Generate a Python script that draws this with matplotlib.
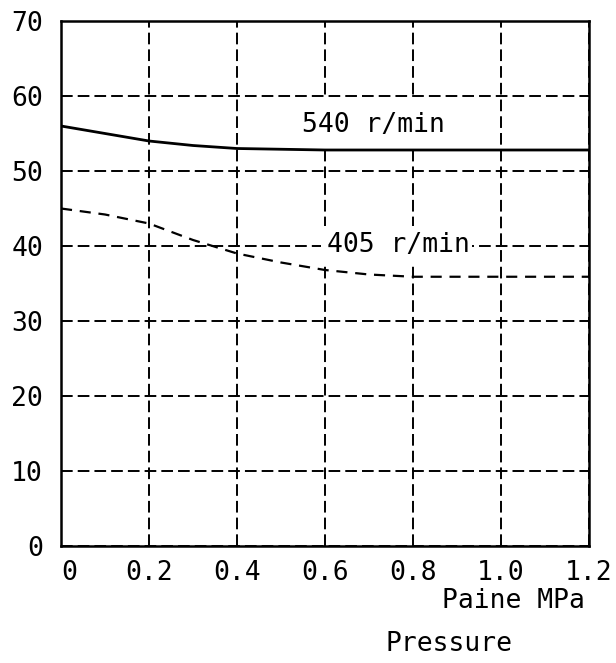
import matplotlib
matplotlib.use("Agg")
import matplotlib.pyplot as plt
from matplotlib.patches import Rectangle

# pressure (MPa) and values
pressure = [0.0, 0.1, 0.2, 0.3, 0.4, 0.5, 0.6, 0.7, 0.8, 0.9, 1.0, 1.1, 1.2]
rpm540 = [56.0, 55.0, 54.0, 53.4, 53.0, 52.9, 52.8, 52.8, 52.8, 52.8, 52.8, 52.8, 52.8]
rpm405 = [45.0, 44.2, 43.0, 40.8, 39.0, 37.8, 36.8, 36.2, 35.9, 35.9, 35.9, 35.9, 35.9]

xticks = [0, 0.2, 0.4, 0.6, 0.8, 1.0, 1.2]
xticklabels = ["0", "0.2", "0.4", "0.6", "0.8", "1.0", "1.2"]
yticks = [0, 10, 20, 30, 40, 50, 60, 70]
yticklabels = ["0", "10", "20", "30", "40", "50", "60", "70"]

font = "DejaVu Sans Mono"
fs = 19

fig = plt.figure(figsize=(6.16, 6.63), dpi=100)
ax = fig.add_axes([61/616, 1-546/663, (589-61)/616, (546-21)/663])

ax.plot(pressure, rpm540, color="k", lw=2.0, zorder=4)
ax.plot(pressure, rpm405, color="k", lw=1.6, linestyle=(0, (5, 3.5)), zorder=4)

ax.set_xlim(0, 1.2)
ax.set_ylim(0, 70)
ax.set_xticks(xticks)
ax.set_xticklabels(xticklabels, fontfamily=font, fontsize=fs)
ax.set_yticks(yticks)
ax.set_yticklabels(yticklabels, fontfamily=font, fontsize=fs)
ax.tick_params(axis="x", length=0, pad=10)
ax.tick_params(axis="y", length=0, pad=13)
ax.get_xticklabels()[0].set_horizontalalignment("left")

ax.set_axisbelow(True)
ax.grid(True, color="k", lw=1.4, linestyle=(0, (6, 2.6)))
for s in ax.spines.values():
    s.set_linewidth(1.8)
    s.set_color("k")

# white areas behind the curve labels (they blank out the grid)
ax.add_patch(Rectangle((0.50, 53.4), 0.42, 6.2, fc="white", ec="none", zorder=1))
ax.add_patch(Rectangle((0.59, 37.7), 0.345, 5.0, fc="white", ec="none", zorder=1))

ax.text(0.548, 56.1, "540 r/min", fontfamily=font, fontsize=fs, ha="left", va="center", zorder=3)
ax.text(0.605, 40.1, "405 r/min", fontfamily=font, fontsize=fs, ha="left", va="center", zorder=3)

fig.text(585/616, 1-601/663, "Paine MPa", fontfamily=font, fontsize=fs, ha="right", va="center")
fig.text(449/616, 1-644/663, "Pressure", fontfamily=font, fontsize=fs, ha="center", va="center")

fig.savefig("out.png", dpi=100)
